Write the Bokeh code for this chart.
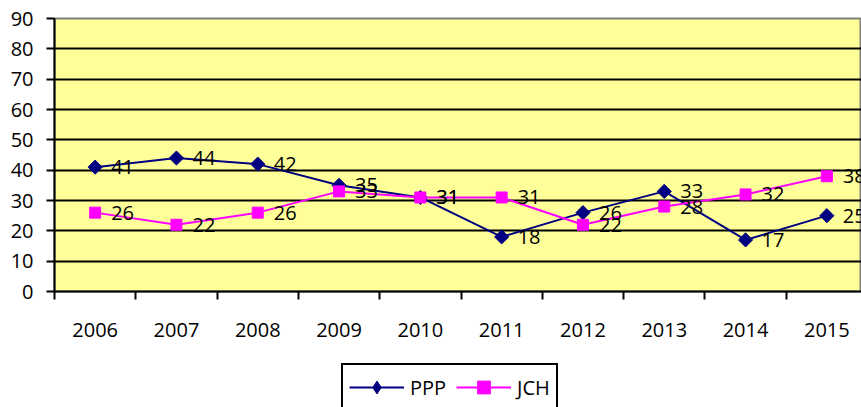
import math
from bokeh.plotting import figure
from bokeh.layouts import column
from bokeh.models import FixedTicker, Range1d, Legend, LegendItem, ColumnDataSource
from bokeh.embed import file_html
from bokeh.resources import INLINE
from bokeh.core.properties import value

years = [2006, 2007, 2008, 2009, 2010, 2011, 2012, 2013, 2014, 2015]
ppp = [41, 44, 42, 35, 31, 18, 26, 33, 17, 25]
jch = [26, 22, 26, 33, 31, 31, 22, 28, 32, 38]
y_ticks = [0, 10, 20, 30, 40, 50, 60, 70, 80, 90]

FONT = "Open Sans"
FS = "20px"
NAVY = "#000080"
MAG = "#FF00FF"

src = ColumnDataSource(dict(
    x=years, ppp=ppp, jch=jch,
    ppp_lbl=[str(v) for v in ppp], jch_lbl=[str(v) for v in jch],
))

p = figure(width=861, height=360, output_backend="svg", toolbar_location=None,
           x_range=Range1d(years[0] - 0.5, years[0] - 0.5 + 807 / 81.3),
           y_range=Range1d(0, 90),
           min_border_left=54, min_border_right=0, min_border_top=18,
           min_border_bottom=69)

p.background_fill_color = "#FFFF99"
p.border_fill_color = "white"
p.outline_line_color = "#808080"
p.outline_line_width = 2

# y axis
p.yaxis.ticker = FixedTicker(ticks=y_ticks)
p.yaxis.axis_line_color = "black"
p.yaxis.axis_line_width = 2
p.yaxis.major_tick_out = 8
p.yaxis.major_tick_in = 0
p.yaxis.major_tick_line_width = 2
p.yaxis.minor_tick_line_color = None
p.yaxis.major_label_standoff = 13
p.yaxis.major_label_text_font = FONT
p.yaxis.major_label_text_font_size = FS
p.yaxis.major_label_text_color = "black"

# x axis: labels at category centres, ticks at boundaries
p.xaxis.ticker = FixedTicker(ticks=years, minor_ticks=[y - 0.5 for y in years] + [years[-1] + 0.5])
p.xaxis.axis_line_color = "black"
p.xaxis.axis_line_width = 2
p.xaxis.major_tick_out = 0
p.xaxis.major_tick_in = 0
p.xaxis.major_tick_line_color = None
p.xaxis.minor_tick_out = 8
p.xaxis.minor_tick_in = 0
p.xaxis.minor_tick_line_color = "black"
p.xaxis.minor_tick_line_width = 2
p.xaxis.major_label_standoff = 23
p.xaxis.major_label_overrides = {y: str(y) for y in years}
p.xaxis.major_label_text_font = FONT
p.xaxis.major_label_text_font_size = FS
p.xaxis.major_label_text_color = "black"

p.xgrid.grid_line_color = None
p.ygrid.ticker = FixedTicker(ticks=y_ticks[:-1])
p.ygrid.grid_line_color = "black"
p.ygrid.grid_line_width = 2

p.line("x", "ppp", source=src, line_color=NAVY, line_width=2)
p.scatter("x", "ppp", source=src, marker="square", angle=math.pi / 4,
          size=10, fill_color=NAVY, line_color=NAVY)
p.line("x", "jch", source=src, line_color=MAG, line_width=2)
p.scatter("x", "jch", source=src, marker="square", size=11,
          fill_color=MAG, line_color=MAG)

for col in ("ppp", "jch"):
    p.text("x", col, text=col + "_lbl", source=src, x_offset=16, y_offset=0,
           text_font=value(FONT), text_font_size=FS, text_color="black",
           text_align="left", text_baseline="middle")

# legend strip (its own small figure; the series lie outside its range)
lg = figure(width=861, height=47, output_backend="svg", toolbar_location=None,
            x_range=Range1d(0, 1), y_range=Range1d(0, 1), min_border=0)
lg.axis.visible = False
lg.grid.visible = False
lg.outline_line_color = None
lg.background_fill_color = "white"
l1 = lg.line("x", "ppp", source=src, line_color=NAVY, line_width=2)
m1 = lg.scatter("x", "ppp", source=src, marker="diamond",
                fill_color=NAVY, line_color=NAVY)
l2 = lg.line("x", "jch", source=src, line_color=MAG, line_width=2)
m2 = lg.scatter("x", "jch", source=src, marker="square",
                fill_color=MAG, line_color=MAG)

legend = Legend(items=[LegendItem(label="PPP", renderers=[l1, m1]),
                       LegendItem(label="JCH", renderers=[l2, m2])],
                orientation="horizontal", location=(287, -4))
legend.label_text_font = FONT
legend.label_text_font_size = FS
legend.label_text_color = "black"
legend.glyph_width = 55
legend.glyph_height = 32
legend.label_standoff = 6
legend.spacing = 10
legend.padding = 6
legend.margin = 0
legend.border_line_color = "black"
legend.border_line_width = 2
legend.border_line_alpha = 1
legend.background_fill_color = "white"
legend.background_fill_alpha = 1
lg.add_layout(legend)

layout = column(p, lg, spacing=0)
open("out.html", "w").write(file_html(layout, INLINE))
